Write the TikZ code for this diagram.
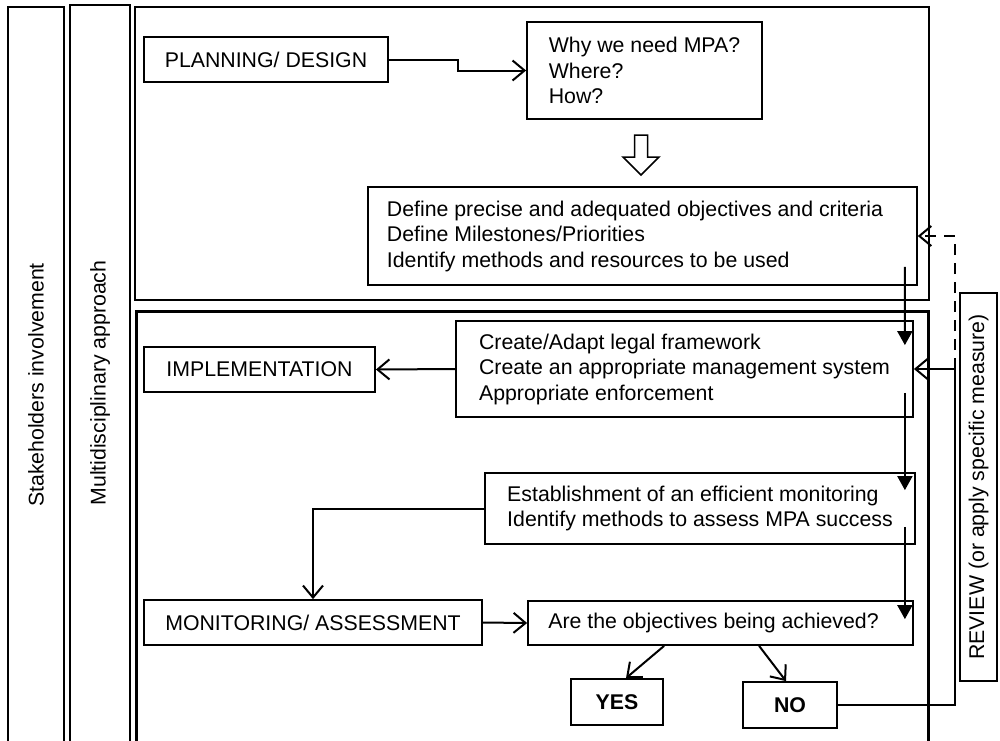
\documentclass[tikz,border=0pt]{standalone}
\usepackage{fontspec}
\setmainfont{Liberation Sans}
\usetikzlibrary{arrows.meta,calc}
\newcommand\dfont{\fontsize{21.3}{25.5}\selectfont}
\begin{document}
\begin{tikzpicture}[x=1pt,y=-1pt,
  box/.style={draw, line width=1.8pt, inner sep=0pt, font=\dfont, align=center},
  lbox/.style={box, align=left},
  strip/.style={draw, line width=1.6pt, rotate=90, inner sep=0pt, font=\dfont},
  barb/.style={line width=2pt, -{Straight Barb[length=12pt,width=20pt]}},
  tri/.style={line width=2pt, -{Triangle[length=14pt,width=15pt]}},
  frame/.style={draw, line width=#1}
]
\useasboundingbox (0,0) rectangle (1000,740);
\clip (0,0) rectangle (1000,740);

% side strips
\node[strip, minimum width=756pt, minimum height=56pt] (stake) at (36,385) {Stakeholders involvement};
\node[strip, minimum width=756pt, minimum height=60pt] (multi) at (100,383) {Multidisciplinary approach};

% main frames
\draw[frame=2.2pt] (135,7) rectangle (929,300);
\draw[frame=3pt] (136,311) rectangle (928,770);

% review strip
\node[strip, line width=1.8pt, minimum width=388pt, minimum height=37pt] (review) at (978.5,487) {REVIEW (or apply specific measure)};

% boxes
\node[box, minimum width=244pt, minimum height=45pt] (plan) at (266,59.5) {PLANNING/ DESIGN};
\node[lbox, minimum width=235pt, minimum height=97pt] (why) at (644.5,70.5) {Why we need MPA?\\Where?\\How?};
\node[lbox, line width=1.5pt, minimum width=549pt, minimum height=98pt] (define) at (642.5,236) {Define precise and adequated objectives and criteria\hspace*{15pt}\\Define Milestones/Priorities\\Identify methods and resources to be used};
\node[lbox, minimum width=457pt, minimum height=96pt] (create) at (684.5,369) {Create/Adapt legal framework\\Create an appropriate management system\\Appropriate enforcement};
\node[box, minimum width=231pt, minimum height=45pt] (impl) at (259.5,369.5) {IMPLEMENTATION};
\node[lbox, minimum width=430pt, minimum height=71pt] (est) at (700,508.5) {Establishment of an efficient monitoring\\Identify methods to assess MPA success};
\node[box, minimum width=338pt, minimum height=45pt] (mon) at (313,622.5) {MONITORING/ ASSESSMENT};
\node[lbox, minimum width=385pt, minimum height=44pt] (are) at (720.5,623) {Are the objectives being achieved?\hspace*{14pt}};
\node[box, minimum width=92pt, minimum height=46pt, font=\dfont\bfseries] (yes) at (617,702) {YES};
\node[box, minimum width=94pt, minimum height=46pt, font=\dfont\bfseries] (no) at (790,705) {NO};

% hollow block arrow
\draw[line width=1.5pt, line join=miter] (634.5,135) -- (647.5,135) -- (647.5,157) -- (659,157) -- (641,175) -- (623,157) -- (634.5,157) -- cycle;

% connectors
\draw[barb] (plan.east) -- ++(69,0) |- (why.west);
\draw[tri] ($(define.south east)+(-13,-19)$) -- ($(create.north east)+(-9,25)$);
\draw[tri] ($(create.south east)+(-9,-25)$) -- ($(est.north east)+(-11,18)$);
\draw[tri] ($(est.south east)+(-11,-18)$) -- ($(are.north east)+(-9,19)$);
\draw[barb] (create.west) -- (impl.east);
\draw[barb] (est.west) -| (mon.north);
\draw[barb] (mon.east) -- (are.west);
\draw[barb] ($(are.south west)+(137,0)$) -- ($(yes.north)+(9,0)$);
\draw[barb] ($(are.south west)+(232,0)$) -- ($(no.north)+(-4,0)$);
\coordinate (rail) at ($(no.east)+(117,0)$);
\draw[barb] (no.east) -- (rail) |- (create.east);
\draw[barb, dash pattern=on 11pt off 8pt] (rail |- create.east) |- (define.east);
\end{tikzpicture}
\end{document}
